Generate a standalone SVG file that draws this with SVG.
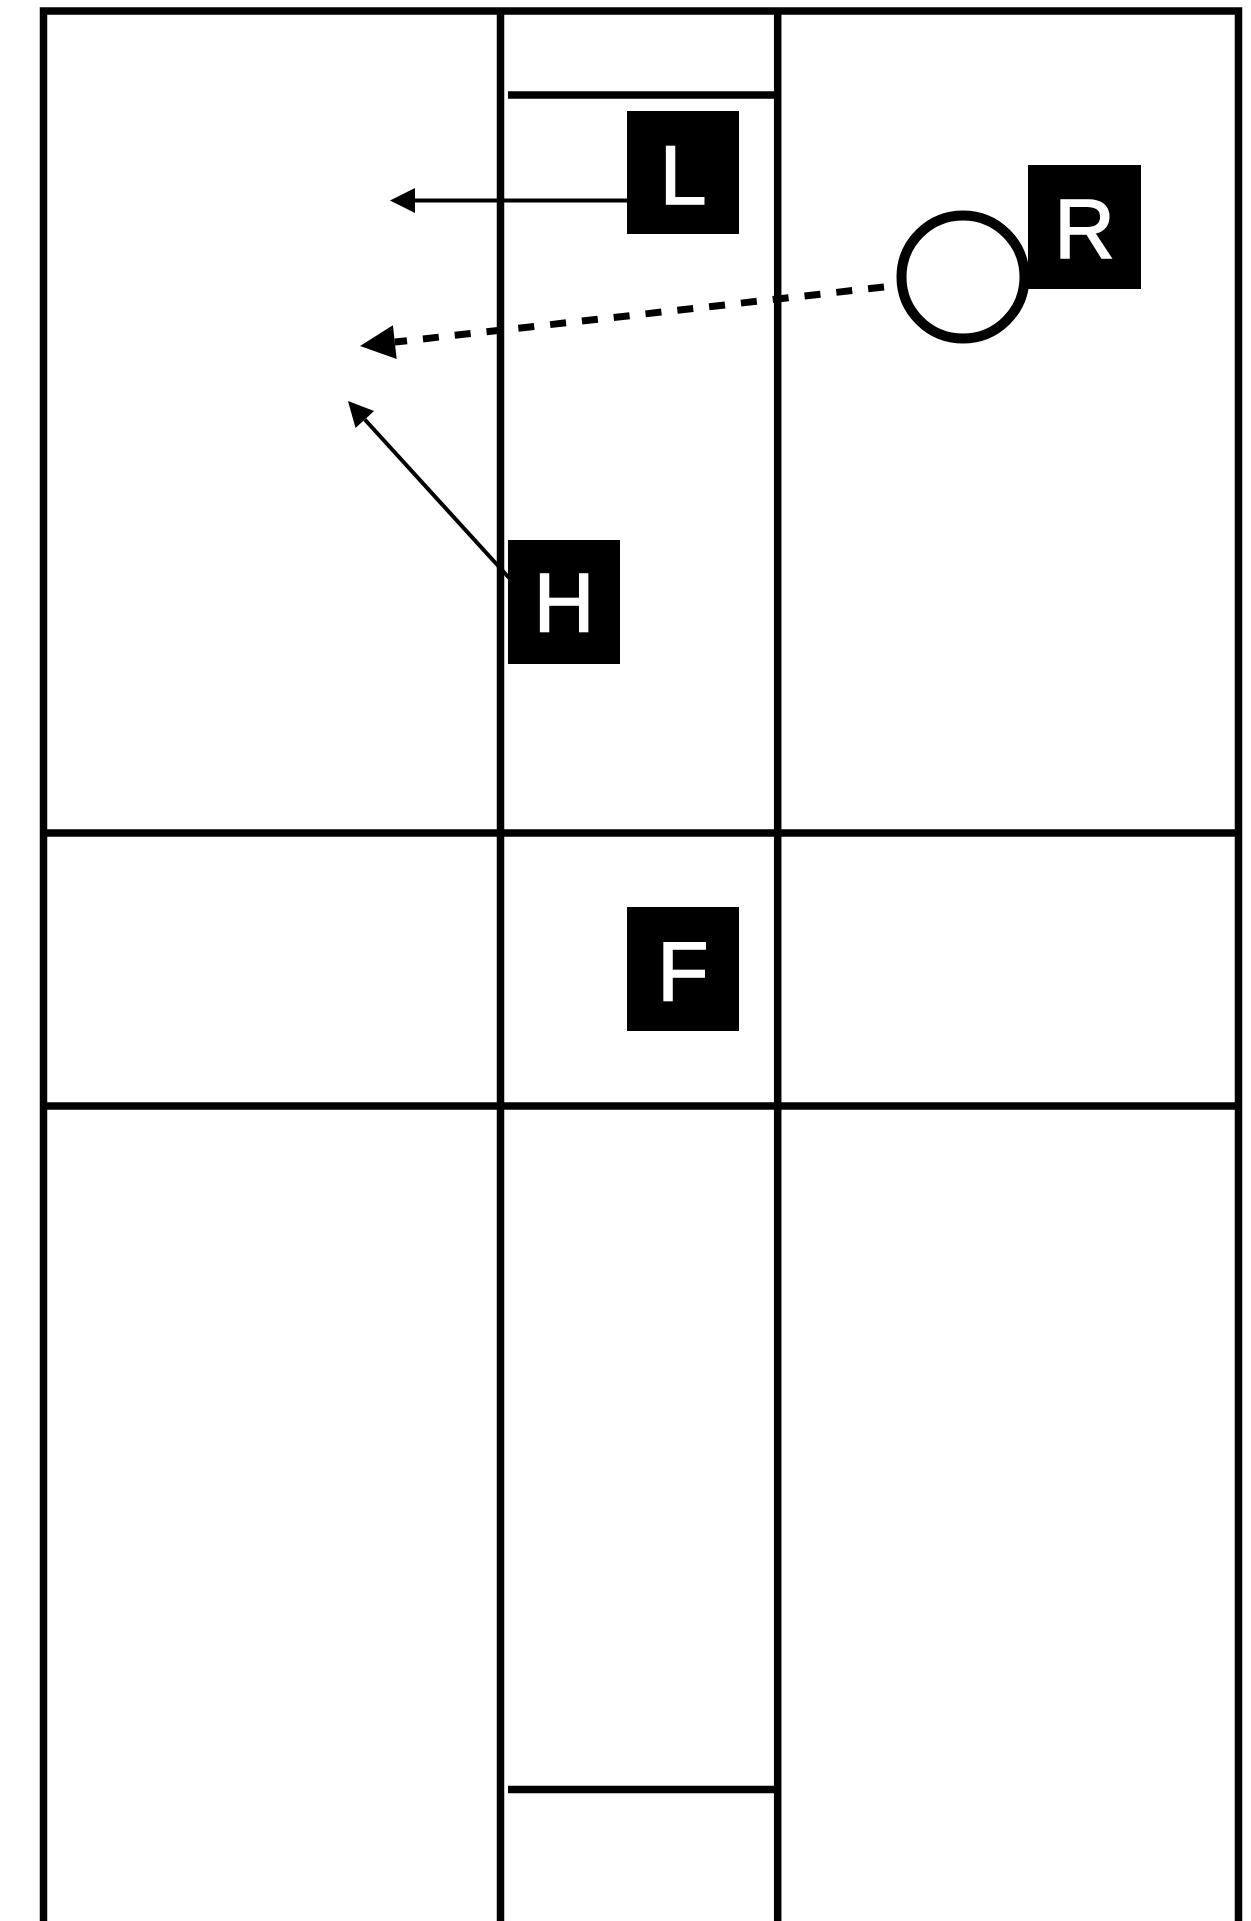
<svg xmlns="http://www.w3.org/2000/svg" width="1251" height="1921" viewBox="0 0 1251 1921">
<style>
.grid{fill:none;stroke:#000;stroke-width:7.5;stroke-linejoin:miter;stroke-linecap:butt}
.box{fill:#000}
.lbl{fill:#fff;stroke:#fff;stroke-width:1.5;stroke-linejoin:miter;font-family:"Liberation Sans",Arial,sans-serif;font-weight:normal;font-size:84px;text-anchor:middle}
.conn{fill:none;stroke:#000;stroke-width:4}
.dash{fill:none;stroke:#000;stroke-width:7;stroke-dasharray:16 16}
</style>
<defs>
<marker id="ah" markerUnits="userSpaceOnUse" orient="auto" refX="0" refY="0" markerWidth="30" markerHeight="30" viewBox="0 -15 30 30" overflow="visible">
<path d="M0,-12.5 L25,0 L0,12.5 z" fill="#000"/>
</marker>
<marker id="ahb" markerUnits="userSpaceOnUse" orient="auto" refX="0" refY="0" markerWidth="40" markerHeight="40" viewBox="0 -20 40 40" overflow="visible">
<path d="M0,-17 L35,0 L0,17 z" fill="#000"/>
</marker>
</defs>
<rect width="1251" height="1921" fill="#fff"/>
<g id="field">
<path class="grid" d="M43.5,1921 V11 H1238.5 V1921"/>
<line class="grid" x1="500.5" y1="11" x2="500.5" y2="1921"/>
<line class="grid" x1="777.7" y1="11" x2="777.7" y2="1921"/>
<line class="grid" x1="43.5" y1="833" x2="1238.5" y2="833"/>
<line class="grid" x1="43.5" y1="1106" x2="1238.5" y2="1106"/>
<line class="grid" x1="508" y1="95" x2="777.7" y2="95"/>
<line class="grid" x1="508" y1="1789.5" x2="777.7" y2="1789.5"/>
</g>
<g id="connectors">
<line class="conn" x1="627" y1="200.5" x2="415" y2="200.5" marker-end="url(#ah)"/>
<line class="dash" x1="884" y1="287" x2="394.8" y2="342.1" marker-end="url(#ahb)"/>
<line class="conn" x1="511" y1="580" x2="364.8" y2="419.5" marker-end="url(#ah)"/>
</g>
<g id="node-L">
<rect class="box" x="627" y="111" width="112" height="123"/>
<text class="lbl" x="683" y="204">L</text>
</g>
<g id="node-circle">
<circle cx="963" cy="277" r="61.5" fill="#fff" stroke="#000" stroke-width="10"/>
</g>
<g id="node-R">
<rect class="box" x="1028" y="165" width="113" height="124"/>
<text class="lbl" x="1084.5" y="258">R</text>
</g>
<g id="node-H">
<rect class="box" x="508" y="540" width="112" height="124"/>
<text class="lbl" x="564" y="632">H</text>
</g>
<g id="node-F">
<rect class="box" x="627" y="907" width="112" height="124"/>
<text class="lbl" x="683" y="1000">F</text>
</g>
</svg>
